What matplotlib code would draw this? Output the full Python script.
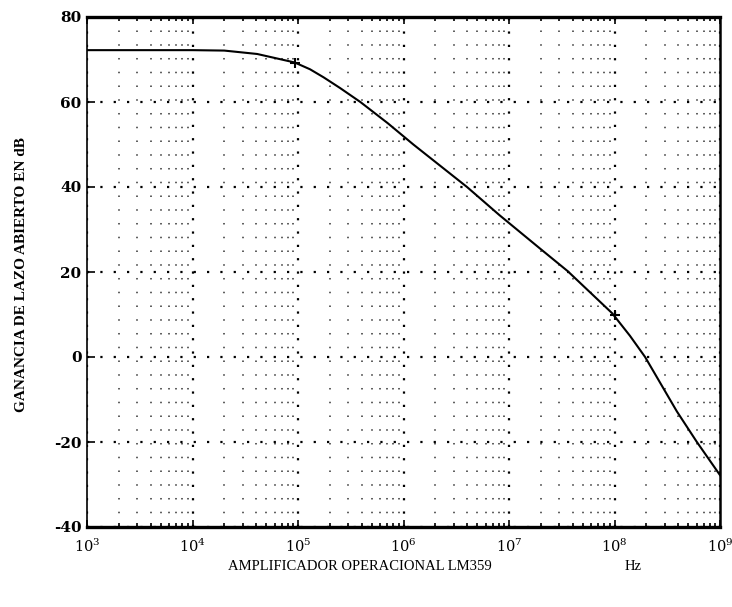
import numpy as np
import matplotlib
matplotlib.use("Agg")
import matplotlib.pyplot as plt
from matplotlib.ticker import LogLocator, FixedLocator, NullFormatter

# Data (frequency in Hz, open-loop gain in dB)
freq_hz = [1e3, 1e4, 2e4, 4.1e4, 9.3e4, 1.3e5, 1.75e5, 2.5e5, 3.9e5,
           7.1e5, 1.24e6, 4.0e6, 8.1e6, 1.95e7, 3.6e7, 9.5e7, 1.4e8,
           1.95e8, 3.9e8, 6.0e8, 1.0e9]
gain_db = [72.2, 72.2, 72.1, 71.3, 69.3, 67.7, 65.8, 63.3, 60.0,
           55.0, 50.0, 40.0, 33.4, 25.6, 20.2, 10.3, 5.0,
           0.0, -12.8, -19.9, -27.8]
marker_hz = [9.3e4, 1.0e8]
marker_db = [69.1, 9.9]

x_ticks = [1e3, 1e4, 1e5, 1e6, 1e7, 1e8, 1e9]
x_ticklabels = [r"$10^{3}$", r"$10^{4}$", r"$10^{5}$", r"$10^{6}$",
                r"$10^{7}$", r"$10^{8}$", r"$10^{9}$"]
y_ticks = [-40, -20, 0, 20, 40, 60, 80]
y_ticklabels = ["-40", "-20", "0", "20", "40", "60", "80"]

ylabel = "GANANCIA DE LAZO ABIERTO EN dB"
bottom_text = "AMPLIFICADOR OPERACIONAL LM359"
unit_text = "Hz"

plt.rcParams['font.family'] = ['DejaVu Serif']
plt.rcParams['mathtext.fontset'] = 'dejavuserif'

fig = plt.figure(figsize=(7.32, 6.07), dpi=100)
ax = fig.add_axes([87/732, (607-527)/607, (720-87)/732, 510/607])

ax.set_xscale('log')
ax.set_xlim(1e3, 1e9)
ax.set_ylim(-40, 80)

ax.xaxis.set_major_locator(FixedLocator(x_ticks))
ax.xaxis.set_minor_locator(LogLocator(base=10, subs=np.arange(2, 10), numticks=20))
ax.xaxis.set_minor_formatter(NullFormatter())
ax.set_xticks(x_ticks)
ax.set_xticklabels(x_ticklabels, fontsize=10.5)
ax.set_yticks(y_ticks)
ax.set_yticklabels(y_ticklabels, fontsize=11, fontweight='bold')

ax.grid(which='major', axis='both', color='black', linestyle=(0, (1, 5)), linewidth=1.6)
ax.grid(which='minor', axis='x', color='#333333', linestyle=(0, (1, 8)), linewidth=1.1)

ax.plot(freq_hz, gain_db, color='black', linewidth=1.5, zorder=3)
ax.plot(marker_hz, marker_db, linestyle='none', marker='+', markersize=7,
        markeredgewidth=1.5, color='black', zorder=4)

ax.tick_params(which='both', direction='in', top=True, right=False, length=5, width=1.2)
ax.tick_params(which='minor', length=3)
ax.tick_params(axis='x', which='major', pad=8)
ax.tick_params(axis='y', which='major', length=6, pad=4)

for side, lw in [('top', 2.4), ('bottom', 2.4), ('left', 1.2), ('right', 1.8)]:
    ax.spines[side].set_linewidth(lw)
    ax.spines[side].set_color('black')

fig.text(22/732, 1 - 275/607, ylabel, rotation=90, ha='center', va='center',
         fontsize=11, fontweight='bold', family='Liberation Serif')
fig.text(360/732, 1 - 567/607, bottom_text, ha='center', va='center',
         fontsize=10.5, family='Liberation Serif')
fig.text(633/732, 1 - 567/607, unit_text, ha='center', va='center',
         fontsize=10.5, family='Liberation Serif')

fig.savefig('out.png', dpi=100, facecolor='white')
